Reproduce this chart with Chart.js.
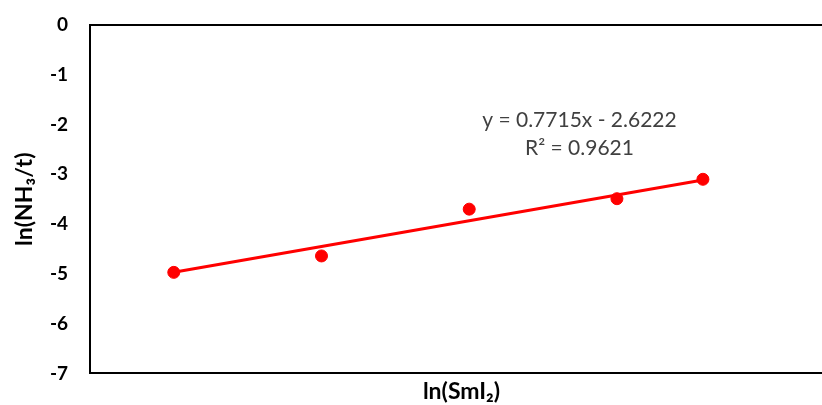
<!DOCTYPE html>
<html>
<head>
<meta charset="utf-8">
<script src="https://cdn.jsdelivr.net/npm/chart.js@4/dist/chart.umd.min.js"></script>
<style>
	html, body { margin: 0; padding: 0; background: #fff; overflow: hidden; }
	#wrap { width: 822px; height: 405px; overflow: hidden; }
	#lnChart { display: block; }
</style>
</head>
<body>
<div id="wrap"><canvas id="lnChart" width="840" height="405"></canvas></div>
<script>

	// ln(SmI2) vs ln(NH3/t)
	const lnSmI2 = [-3.04, -2.37, -1.70, -1.03, -0.64];
	const lnNH3t = [-4.97, -4.64, -3.70, -3.49, -3.10];
	const yTicks = [0, -1, -2, -3, -4, -5, -6, -7];

	// linear trendline as printed on the chart
	const slope = 0.7715;
	const intercept = -2.6222;
	const rSquared = 0.9621;

	const points = lnSmI2.map((x, i) => ({ x: x, y: lnNH3t[i] }));
	const xFirst = lnSmI2[0];
	const xLast = lnSmI2[lnSmI2.length - 1];
	const trend = [
		{ x: xFirst, y: slope * xFirst + intercept },
		{ x: xLast, y: slope * xLast + intercept }
	];

	const eqLabel = {
		id: 'eqLabel',
		afterDatasetsDraw: chart => {
			const ctx = chart.ctx;
			const xs = chart.scales.x;
			const ys = chart.scales.y;
			const cx = xs.getPixelForValue(-1.2);
			ctx.save();
			ctx.fillStyle = '#404040';
			ctx.font = '21px Lato, "Open Sans", sans-serif';
			ctx.textAlign = 'center';
			ctx.textBaseline = 'middle';
			ctx.fillText('y = ' + slope + 'x - ' + Math.abs(intercept).toFixed(4), cx, ys.getPixelForValue(-1.915));
			ctx.fillText('R² = ' + rSquared, cx, ys.getPixelForValue(-2.48));
			ctx.restore();
		}
	};

	const ctx = document.getElementById('lnChart').getContext('2d');

	// canvas is a bit wider than the page so the plot box runs off the right edge
	new Chart(ctx, {
		type: 'scatter',
		data: {
			datasets: [
				{
					label: 'trend',
					type: 'line',
					data: trend,
					borderColor: '#ff0000',
					borderWidth: 3,
					pointRadius: 0,
					fill: false
				},
				{
					label: 'data',
					data: points,
					backgroundColor: '#ff0000',
					borderColor: '#ff0000',
					pointRadius: 6,
					pointHoverRadius: 6
				}
			]
		},
		options: {
			responsive: false,
			animation: false,
			events: [],
			layout: { padding: { top: 25, right: 1, bottom: 0, left: 4 } },
			plugins: {
				legend: { display: false },
				tooltip: { enabled: false }
			},
			scales: {
				x: {
					type: 'linear',
					min: -3.42,
					max: -0.05,
					grid: { display: false, drawTicks: false, color: 'transparent' },
					border: { display: true, color: '#000', width: 2 },
					ticks: { display: false },
					title: {
						display: true,
						text: 'ln(SmI₂)',
						color: '#000',
						font: { family: 'Lato', size: 23, weight: 'bold' },
						padding: { top: 4, bottom: 0 }
					}
				},
				xTop: {
					type: 'linear',
					position: 'top',
					min: -3.42,
					max: -0.05,
					grid: { display: false, drawTicks: false, color: 'transparent' },
					border: { display: true, color: '#000', width: 2 },
					ticks: { display: false }
				},
				y: {
					min: -7,
					max: 0,
					afterBuildTicks: axis => {
						axis.ticks = yTicks.map(v => ({ value: v }));
					},
					afterFit: axis => {
						axis.width = 86;
					},
					grid: { display: false, drawTicks: true, tickLength: 22, color: 'transparent' },
					border: { display: true, color: '#000', width: 2 },
					ticks: {
						color: '#000',
						padding: 0,
						font: { family: 'Lato', size: 19, weight: 'bold', lineHeight: 1 }
					},
					title: {
						display: true,
						text: 'ln(NH₃/t)',
						color: '#000',
						font: { family: 'Lato', size: 23, weight: 'bold' },
						padding: { top: 7, bottom: 8 }
					}
				}
			}
		},
		plugins: [eqLabel]
	});

</script>
</body>
</html>
